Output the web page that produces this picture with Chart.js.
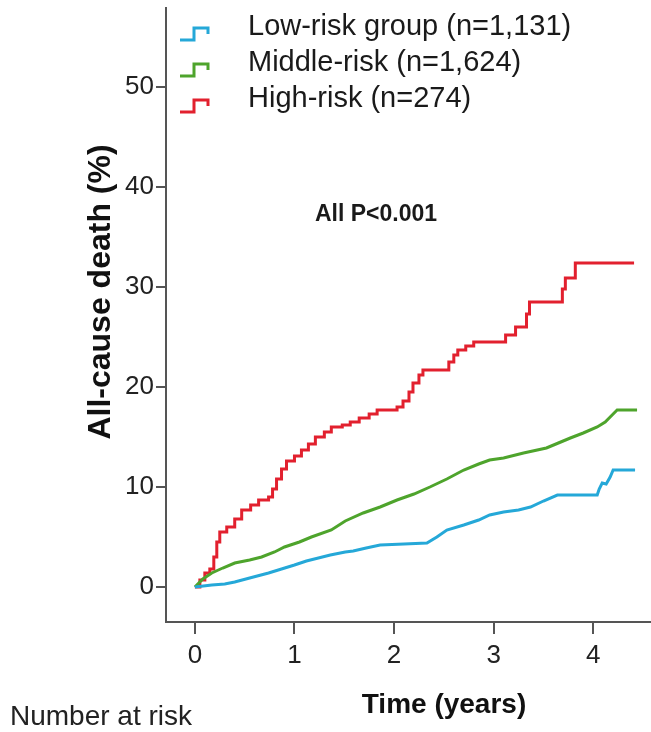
<!DOCTYPE html>
<html><head><meta charset="utf-8">
<script src="https://cdn.jsdelivr.net/npm/chart.js@4/dist/chart.umd.min.js"></script>
<style>html,body{margin:0;padding:0;background:#fff;}#wrap{width:651px;height:732px;position:relative;}</style>
</head><body><div id="wrap"><canvas id="c" width="651" height="732"></canvas></div>
<script>
const xTicks = [0, 1, 2, 3, 4];
const yTicks = [0, 10, 20, 30, 40, 50];
const seriesNames = ['Low-risk group (n=1,131)', 'Middle-risk (n=1,624)', 'High-risk (n=274)'];
const yTitle = 'All-cause death (%)';
const xTitle = 'Time (years)';
const note = 'All P<0.001';
const footer = 'Number at risk';

const lowTime = [0,0.17,0.30,0.40,0.55,0.74,0.87,1.00,1.12,1.24,1.36,1.51,1.59,1.72,1.86,2.10,2.33,2.43,2.53,2.70,2.85,2.96,3.10,3.25,3.37,3.50,3.64,4.04,4.06,4.09,4.13,4.17,4.20,4.42];
const lowRisk = [0,0.2,0.3,0.5,0.9,1.4,1.8,2.2,2.6,2.9,3.2,3.5,3.6,3.9,4.2,4.3,4.4,5.0,5.7,6.2,6.7,7.2,7.5,7.7,8.0,8.6,9.2,9.2,9.8,10.4,10.3,11.0,11.7,11.7];

const midTime = [0,0.08,0.17,0.28,0.40,0.55,0.67,0.80,0.90,1.05,1.17,1.37,1.51,1.69,1.86,2.03,2.20,2.36,2.53,2.70,2.85,2.96,3.10,3.30,3.53,3.65,3.77,3.90,4.04,4.12,4.17,4.24,4.44];
const midRisk = [0,0.8,1.4,1.9,2.4,2.7,3.0,3.5,4.0,4.5,5.0,5.7,6.6,7.4,8.0,8.7,9.3,10.0,10.8,11.7,12.3,12.7,12.9,13.4,13.9,14.4,14.9,15.4,16.0,16.5,17.0,17.7,17.7];

const highTime = [0,0.05,0.10,0.15,0.19,0.22,0.25,0.32,0.40,0.47,0.56,0.64,0.74,0.78,0.82,0.87,0.92,1.00,1.07,1.14,1.21,1.30,1.37,1.48,1.56,1.65,1.75,1.83,2.03,2.09,2.15,2.19,2.25,2.29,2.55,2.60,2.64,2.72,2.80,3.12,3.22,3.33,3.36,3.69,3.72,3.82,4.41];
const highRisk = [0,0.7,1.4,1.8,3.0,4.5,5.5,6.0,6.8,7.7,8.2,8.7,9.0,9.8,10.8,11.8,12.6,13.1,13.7,14.3,15.0,15.5,16.0,16.2,16.5,16.9,17.3,17.7,18.0,18.6,19.5,20.4,21.2,21.7,22.5,23.2,23.7,24.1,24.5,25.2,26.0,27.3,28.5,29.8,30.9,32.4,32.4];

const colors = ['#25a8d8', '#4ea42c', '#e2202e'];
const FONT = "'Liberation Sans', Arial, Helvetica, sans-serif";

function pts(t, v) { return t.map((x, i) => ({ x: x, y: v[i] })); }

const textPlugin = {
  id: 'texts',
  afterDraw(chart) {
    const ctx = chart.ctx;
    ctx.save();
    ctx.fillStyle = '#1a1a1a';
    const baselines = [35, 71, 107];
    ctx.font = '29px ' + FONT;
    ctx.textAlign = 'left';
    ctx.textBaseline = 'alphabetic';
    chart.data.datasets.forEach((ds, i) => {
      const b = baselines[i];
      ctx.strokeStyle = ds.borderColor;
      ctx.lineWidth = 3;
      ctx.beginPath();
      ctx.moveTo(180, b + 5);
      ctx.lineTo(194, b + 5);
      ctx.lineTo(194, b - 7);
      ctx.lineTo(208, b - 7);
      ctx.lineTo(208, b - 1);
      ctx.stroke();
      ctx.fillStyle = '#1a1a1a';
      ctx.fillText(ds.label, 248, b);
    });
    ctx.font = 'bold 23px ' + FONT;
    ctx.fillText(note, 315, 221);
    ctx.font = '28px ' + FONT;
    ctx.fillStyle = '#222';
    ctx.fillText(footer, 10, 725);
    ctx.font = 'bold 28px ' + FONT;
    ctx.textAlign = 'center';
    ctx.fillStyle = '#111';
    ctx.fillText(xTitle, 444, 713);
    ctx.translate(101, 292);
    ctx.rotate(-Math.PI / 2);
    ctx.textBaseline = 'middle';
    ctx.font = 'bold 32px ' + FONT;
    ctx.fillText(yTitle, 0, 0);
    ctx.restore();
  }
};

new Chart(document.getElementById('c'), {
  type: 'line',
  data: {
    datasets: [
      { label: seriesNames[0], data: pts(lowTime, lowRisk), borderColor: colors[0], borderWidth: 3, pointRadius: 0, fill: false, tension: 0 },
      { label: seriesNames[1], data: pts(midTime, midRisk), borderColor: colors[1], borderWidth: 3, pointRadius: 0, fill: false, tension: 0 },
      { label: seriesNames[2], data: pts(highTime, highRisk), borderColor: colors[2], borderWidth: 3, pointRadius: 0, fill: false, stepped: true }
    ]
  },
  options: {
    responsive: false,
    devicePixelRatio: 1,
    animation: false,
    layout: { padding: { top: 8, right: 1, left: 0, bottom: 0 } },
    plugins: { legend: { display: false }, tooltip: { enabled: false } },
    scales: {
      x: {
        type: 'linear', min: -0.29, max: 4.57,
        afterBuildTicks: s => { s.ticks = xTicks.map(v => ({ value: v })); },
        afterFit: s => { s.height = 110; s.paddingLeft = 0; s.paddingRight = 0; },
        grid: { display: true, drawOnChartArea: false, drawTicks: true, tickLength: 12, color: '#555', lineWidth: 2 },
        border: { display: true, color: '#555', width: 2 },
        ticks: { font: { family: FONT, size: 26 }, color: '#222', padding: 6, maxRotation: 0, autoSkip: false }
      },
      y: {
        type: 'linear', min: -3.5, max: 57.9,
        afterBuildTicks: s => { s.ticks = yTicks.map(v => ({ value: v })); },
        afterFit: s => { s.width = 166; s.paddingTop = 0; s.paddingBottom = 0; },
        grid: { display: true, drawOnChartArea: false, drawTicks: true, tickLength: 10, color: '#555', lineWidth: 2 },
        border: { display: true, color: '#555', width: 2 },
        ticks: { font: { family: FONT, size: 26 }, color: '#222', padding: 2, autoSkip: false }
      }
    }
  },
  plugins: [textPlugin]
});
</script>
</body></html>
